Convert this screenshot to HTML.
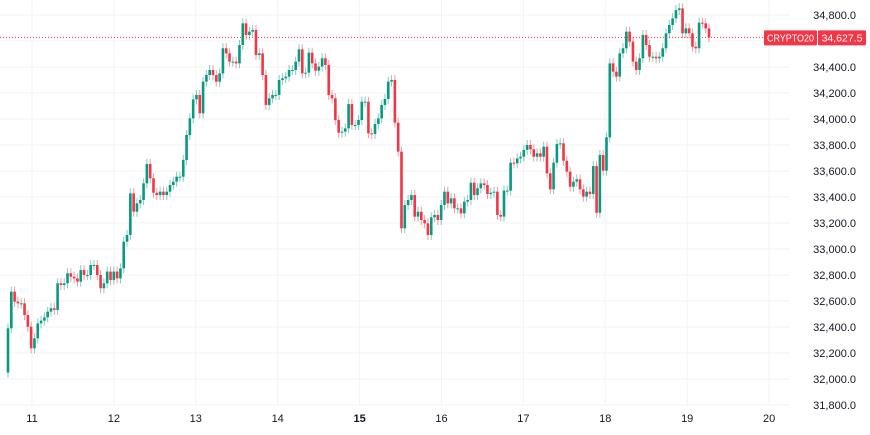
<!DOCTYPE html>
<html><head><meta charset="utf-8"><style>
body{margin:0;background:#fff;width:870px;height:430px;overflow:hidden;font-family:"Liberation Sans",sans-serif}
svg text{font-family:"Liberation Sans",sans-serif;font-size:11px;fill:#131722}
</style></head><body>
<svg id="chart" width="870" height="430" xmlns="http://www.w3.org/2000/svg">
<g id="grid"></g>
<g id="candles"></g>
<g id="yaxis"></g>
<g id="xaxis"></g>
<g id="last"></g>
</svg>
<script>
const firstOpen = 32050;
const closes = [32390,32672,32595,32582,32582,32492,32402,32236,32313,32428,32449,32474,32518,32544,32531,32736,32723,32736,32813,32787,32774,32749,32838,32800,32800,32877,32877,32800,32698,32736,32826,32762,32826,32774,32851,33056,33108,
33428,33287,33351,33377,33505,33654,33544,33433,33415,33441,33415,33441,33492,33518,33556,33556,33685,33877,34005,34151,34185,34044,34287,34338,34377,34338,34287,34351,34544,34505,34441,34441,34428,34569,34736,34646,34672,34685,34492,34505,34338,34108,34159,34185,34185,34300,34313,34326,34377,34377,34441,
34536,34351,34356,34510,34428,34372,34403,34467,34415,34185,34159,33992,33895,33903,33928,34115,33954,33954,33992,34133,34133,33890,33885,33962,34005,34108,34154,34287,34300,33972,33749,33159,33338,33377,33415,33249,33287,33223,33197,33108,33244,33262,
33223,33338,33441,33351,33390,33313,33313,33274,33364,33377,33510,33415,33467,33505,33492,33423,33433,33441,33262,33249,33449,33449,33664,33659,33697,33710,33762,33800,33767,33710,33736,33710,33787,33582,33459,33664,33808,33813,33679,33595,33479,33518,33536,33459,33403,33441,33423,33638,33279,33723,33603,33859,34428,
34364,34326,34505,34544,34672,34595,34441,34377,34467,34646,34569,34479,34479,34467,34479,34544,34659,34723,34774,34838,34851,34659,34697,34659,34556,34544,34741,34736,34697,34627.5];
const priceTicks = [34800,34600,34400,34200,34000,33800,33600,33400,33200,33000,32800,32600,32400,32200,32000,31800];
const dayLabels = ["11","12","13","14","15","16","17","18","19","20"];
const lastPrice = 34627.5;

const NS="http://www.w3.org/2000/svg";
const yS = v => 15 + (34800 - v) * 0.13;
const dayX = i => 32 + i * 81.9;
const step = (709 - 8) / (closes.length - 1);
const cX = i => 8 + i * step;
function mk(tag, attrs, parent){const e=document.createElementNS(NS,tag);for(const k in attrs)e.setAttribute(k,attrs[k]);parent.appendChild(e);return e;}
const grid=document.getElementById('grid'),cg=document.getElementById('candles'),ya=document.getElementById('yaxis'),xa=document.getElementById('xaxis'),lg=document.getElementById('last');

priceTicks.forEach(p=>{
  const l=mk('line',{x1:0,x2:790,y1:yS(p),y2:yS(p),stroke:'#f2f3f5','stroke-width':1},grid);
  
  
  if(p===34600)return;
  const t=mk('text',{x:856,y:yS(p)+4,'text-anchor':'end'},ya);
  t.textContent=p.toLocaleString('en-US')+'.0';
  
  
});
dayLabels.forEach((d,i)=>{
  const l=mk('line',{x1:dayX(i),x2:dayX(i),y1:0,y2:405,stroke:'#f2f3f5','stroke-width':1},grid);
  
  
  const t=mk('text',{x:dayX(i),y:422,'text-anchor':'middle'},xa);
  if(d==="15")t.setAttribute('font-weight','bold');
  t.textContent=d;
  
  
});
let prev=firstOpen;
closes.forEach((c,i)=>{
  const o=prev, up=c>=o, col=up?'#089981':'#f23645';
  const x=cX(i), top=yS(Math.max(o,c)), bot=yS(Math.min(o,c));
  const g=mk('g',{},cg);
  
  
  mk('line',{x1:x,x2:x,y1:top-5,y2:bot+5,stroke:col,'stroke-opacity':0.5,'stroke-width':1},g);
  mk('rect',{x:x-1.3,y:top,width:2.6,height:Math.max(1,bot-top),fill:col},g);
  prev=c;
});
const ly=yS(lastPrice);
const dl=mk('line',{x1:0,x2:763,y1:ly,y2:ly,stroke:'#f23645','stroke-width':1,'stroke-dasharray':'1,2'},lg);


const r1=mk('rect',{x:764,y:ly-7,width:53,height:15,fill:'#f23645',rx:1},lg);


const t1=mk('text',{x:767,y:ly+4,textLength:47,lengthAdjust:'spacingAndGlyphs',style:'fill:#fff;font-size:10.5px'},lg);
t1.textContent='CRYPTO20';


const r2=mk('rect',{x:818,y:ly-7,width:48,height:15,fill:'#f23645',rx:1},lg);


const t2=mk('text',{x:842,y:ly+4,'text-anchor':'middle',style:'fill:#fff;font-size:10.5px'},lg);
t2.textContent=lastPrice.toLocaleString('en-US',{minimumFractionDigits:1});


</script>
</body></html>
